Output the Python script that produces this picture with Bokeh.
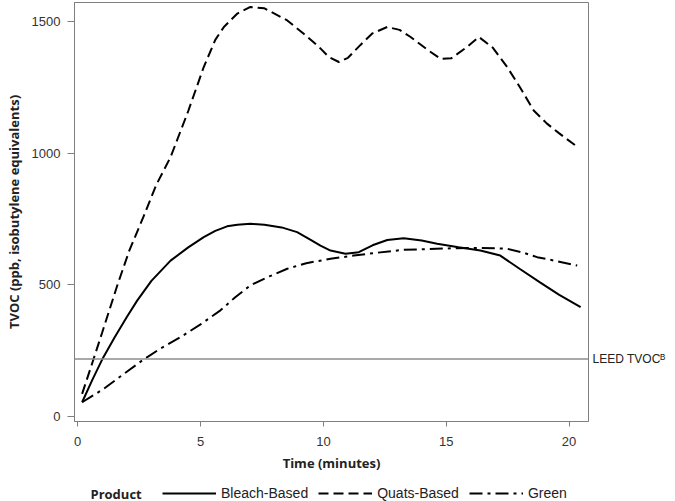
from bokeh.plotting import figure
from bokeh.layouts import column
from bokeh.models import (Range1d, FixedTicker, Legend, LegendItem, Span,
                          LinearAxis, Label)
from bokeh.embed import file_html
from bokeh.resources import INLINE

# ---- data ----
time_quats = [0.18, 0.6, 1.0, 1.62, 2.1, 2.67, 3.2, 3.78, 4.5, 5.13, 5.6, 5.95, 6.5,
              7.03, 7.6, 8.53, 9.2, 9.8, 10.22, 10.63, 11.0, 11.5, 12.0, 12.6, 13.1,
              13.55, 14.2, 14.77, 15.2, 15.8, 16.33, 16.9, 17.48, 18.0, 18.56, 19.1,
              19.6, 20.26]
quats = [86, 205, 320, 500, 630, 757, 880, 985, 1160, 1327, 1430, 1479, 1530,
         1555, 1550, 1504, 1453, 1405, 1365, 1346, 1362, 1410, 1455, 1479, 1468,
         1441, 1395, 1358, 1360, 1400, 1441, 1400, 1327, 1250, 1162, 1112,
         1075, 1029]

time_bleach = [0.18, 0.6, 1.0, 1.5, 2.0, 2.42, 3.0, 3.78, 4.5, 5.13, 5.6, 6.08, 6.5,
               7.03, 7.6, 8.3, 8.93, 9.5, 9.88, 10.29, 10.9, 11.44, 12.0, 12.6, 13.27,
               14.0, 14.63, 15.5, 16.39, 17.2, 18.0, 18.8, 19.6, 20.47]
bleach = [54, 140, 217, 300, 378, 440, 515, 592, 642, 681, 705, 722, 728,
          732, 728, 718, 700, 670, 649, 630, 618, 624, 650, 670, 677,
          668, 656, 643, 630, 611, 560, 510, 462, 415]

time_green = [0.18, 1.06, 2.0, 2.69, 3.4, 4.18, 5.0, 5.81, 6.4, 7.03, 7.8, 8.53, 9.3,
              10.29, 11.24, 12.2, 13.27, 14.3, 15.31, 16.4, 17.48, 18.1, 18.7, 19.5,
              20.33]
green = [54, 105, 170, 217, 260, 301, 350, 403, 452, 498, 532, 561, 582,
         599, 611, 622, 633, 636, 639, 640, 637, 623, 605, 590, 573]

leed_tvoc = 218
leed_label = "LEED TVOC\u1D2E"
x_ticks = [0, 5, 10, 15, 20]
y_ticks = [0, 500, 1000, 1500]
series_labels = ["Bleach-Based", "Quats-Based", "Green"]
legend_title = "Product"

FRAME = "#7f7f7f"
TICKFONT = "Liberation Sans"
TITLEFONT = "Open Sans"
DASH_QUATS = "10 5"
DASH_GREEN = "13 5 3 5"


def add_series(fig):
    rb = fig.line(time_bleach, bleach, line_color="black", line_width=2)
    rq = fig.line(time_quats, quats, line_color="black", line_width=2,
                  line_dash=DASH_QUATS)
    rg = fig.line(time_green, green, line_color="black", line_width=2,
                  line_dash=DASH_GREEN)
    return rb, rq, rg


p = figure(width=675, height=481, output_backend="svg", toolbar_location=None,
           x_range=Range1d(-0.13, 20.79), y_range=Range1d(-19, 1572),
           min_border_left=74, min_border_right=87, min_border_top=2,
           min_border_bottom=60)

p.xgrid.visible = False
p.ygrid.visible = False
p.outline_line_color = FRAME
p.outline_line_width = 1
p.background_fill_color = "white"

for ax in (p.xaxis[0], p.yaxis[0]):
    ax.axis_line_color = FRAME
    ax.major_tick_line_color = FRAME
    ax.minor_tick_line_color = None
    ax.major_tick_in = 0
    ax.major_label_text_font = TICKFONT
    ax.major_label_text_font_size = "13px"
    ax.major_label_text_color = "#333333"
    ax.axis_label_text_font = TITLEFONT
    ax.axis_label_text_font_style = "bold"
    ax.axis_label_text_font_size = "13px"
    ax.axis_label_text_color = "#222222"

p.xaxis.ticker = FixedTicker(ticks=x_ticks)
p.yaxis.ticker = FixedTicker(ticks=y_ticks)
p.xaxis.axis_label = "Time (minutes)"
p.yaxis.axis_label = "TVOC (ppb, isobutylene equivalents)"
p.xaxis.major_tick_out = 5
p.yaxis.major_tick_out = 7
p.xaxis.major_label_standoff = 10
p.yaxis.major_label_standoff = 7
p.xaxis.axis_label_standoff = 5
p.yaxis.axis_label_standoff = 6

p.add_layout(Span(location=leed_tvoc, dimension="width", line_color="#8c8c8c",
                  line_width=1.5))

# LEED label drawn as a tick label of a right-hand axis
leed_axis = LinearAxis(ticker=FixedTicker(ticks=[leed_tvoc]),
                       major_label_overrides={leed_tvoc: leed_label},
                       axis_line_color=None, major_tick_line_color=None,
                       minor_tick_line_color=None, major_tick_out=0,
                       major_tick_in=0, major_label_standoff=4,
                       major_label_text_font=TICKFONT,
                       major_label_text_font_size="12px",
                       major_label_text_color="#222222")
p.add_layout(leed_axis, "right")

add_series(p)

# ---- legend strip below the chart (same series, out of its view range) ----
lg = figure(width=675, height=20, output_backend="svg", toolbar_location=None,
            x_range=Range1d(74, 588), y_range=Range1d(0, 20),
            min_border_left=74, min_border_right=87, min_border_top=0,
            min_border_bottom=0, x_axis_type=None, y_axis_type=None)
lg.xgrid.visible = False
lg.ygrid.visible = False
lg.outline_line_color = None

k_bleach, k_quats, k_green = add_series(lg)

legend = Legend(items=[LegendItem(label=series_labels[0], renderers=[k_bleach]),
                       LegendItem(label=series_labels[1], renderers=[k_quats]),
                       LegendItem(label=series_labels[2], renderers=[k_green])],
                orientation="horizontal", location=(88, 0),
                label_text_font=TICKFONT, label_text_font_size="14px",
                label_text_color="#222222",
                glyph_width=54, glyph_height=16, label_height=16,
                label_standoff=5, spacing=10, padding=0, margin=0,
                border_line_alpha=0, background_fill_alpha=0)
lg.add_layout(legend)

lg.add_layout(Label(x=90, y=8, text=legend_title, text_font=TITLEFONT,
                    text_font_style="bold", text_font_size="13px",
                    text_baseline="middle", text_color="#222222"))

open("out.html", "w").write(file_html(column(p, lg, spacing=0), INLINE))
